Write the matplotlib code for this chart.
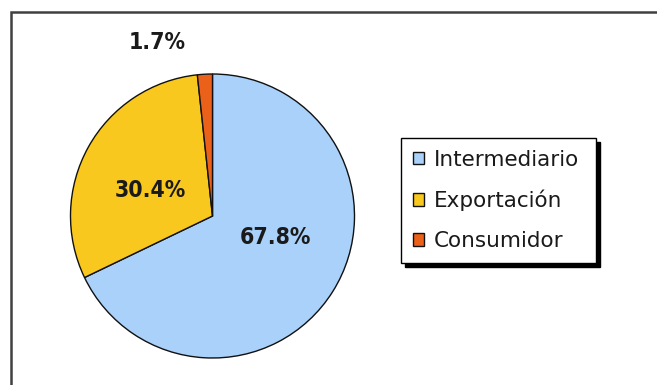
import matplotlib
matplotlib.use("Agg")
import matplotlib.pyplot as plt
from matplotlib.patches import Rectangle

# ---- data ----
categories = ["Intermediario", "Exportación", "Consumidor"]
values = [67.8, 30.4, 1.7]
colors = ["#A9D1F9", "#F9C81E", "#EC6119"]

W, H = 657, 385
fig = plt.figure(figsize=(W / 100, H / 100), dpi=100)
fig.patch.set_facecolor("white")

# outer frame (runs off the right and bottom edges, as in the reference)
fig.add_artist(Rectangle((10.5 / W, -0.2), 1.5, (H - 11.5) / H + 0.2,
                         transform=fig.transFigure, fill=False,
                         edgecolor="#404040", linewidth=1.8))

# pie axes: centre (212.5, 216) px from top-left, radius 142 px
cx, cy, r = 212.5, 216, 142
ax = fig.add_axes([(cx - r) / W, (H - cy - r) / H, 2 * r / W, 2 * r / H])
wedges, _ = ax.pie(values, colors=colors, startangle=90, counterclock=False,
                   wedgeprops=dict(edgecolor="#111111", linewidth=1.0))
ax.set_xlim(-1, 1)
ax.set_ylim(-1, 1)
ax.set_aspect("auto")
ax.axis("off")

label_pos = [(0.44, -0.15), (-0.44, 0.18), (-0.39, 1.22)]
lfont = dict(family="DejaVu Sans", stretch="condensed",
             weight="bold", size=16.5, color="#1a1a1a")
for v, (x, y) in zip(values, label_pos):
    ax.text(x, y, f"{v}%", ha="center", va="center", **lfont)

leg = ax.legend(wedges, categories, loc="upper left", mode="expand",
                bbox_to_anchor=(401 / W, (H - 264) / H, 195 / W, 126 / H),
                bbox_transform=fig.transFigure, borderaxespad=0,
                prop=dict(family="DejaVu Sans", size=15.5),
                handlelength=0.52, handleheight=0.52, handletextpad=0.45,
                labelspacing=0.93, borderpad=0.55,
                fancybox=False, framealpha=1,
                shadow={"ox": 3, "oy": -3, "color": "black", "alpha": 1})
leg.get_frame().set_edgecolor("black")
leg.get_frame().set_linewidth(1.0)
for t in leg.get_texts():
    t.set_color("#1a1a1a")

fig.savefig("out.png", dpi=100, facecolor="white")
